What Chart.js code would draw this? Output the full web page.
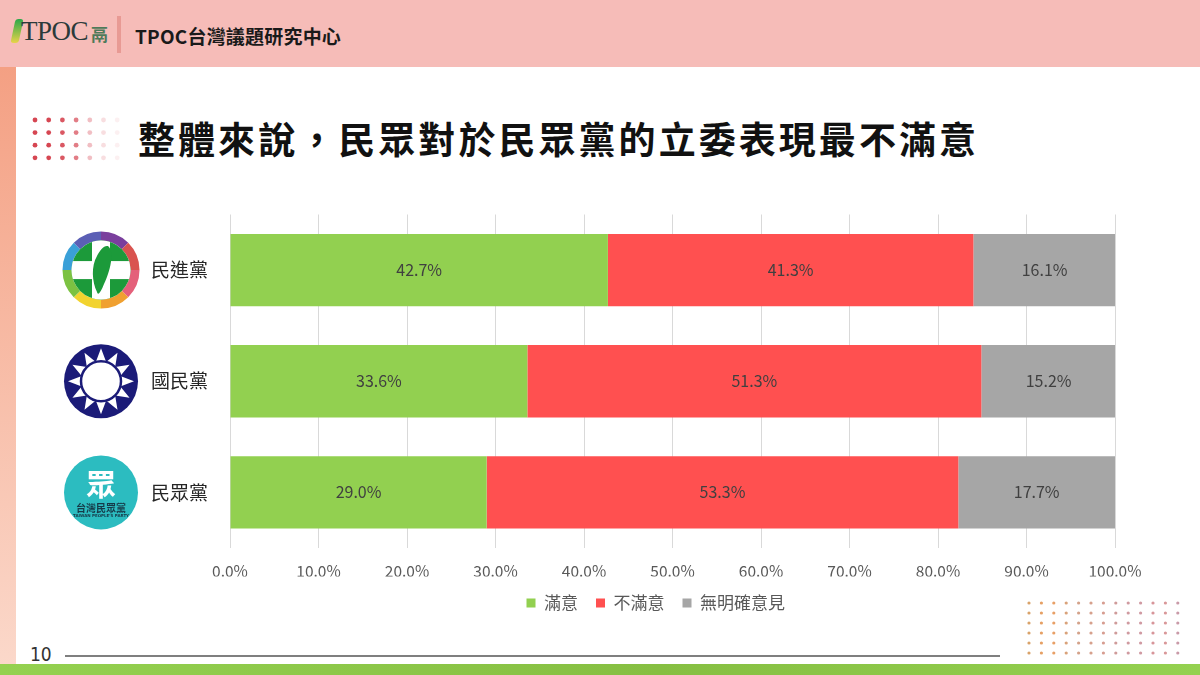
<!DOCTYPE html>
<html><head><meta charset="utf-8">
<script src="https://cdn.jsdelivr.net/npm/chart.js@4"></script>
<style>
html,body{margin:0;padding:0;width:1200px;height:675px;overflow:hidden;background:#fff;font-family:"Noto Sans CJK TC",sans-serif;}
#hdr{position:absolute;left:0;top:0;width:1200px;height:67px;background:#f6bcb8;}
#strip{position:absolute;left:0;top:67px;width:16px;height:597px;background:linear-gradient(#f4a083,#fbd8ca);}
#foot{position:absolute;left:0;top:664px;width:1200px;height:11px;background:linear-gradient(90deg,#94d150,#86bf42 55%,#94d150);}
#logoTxt{position:absolute;left:21px;top:16px;font-family:"Liberation Serif",serif;font-size:27px;color:#2b3a3a;letter-spacing:-0.5px;}
#logoIco{position:absolute;left:91px;top:21px;font-size:17px;font-weight:bold;color:#4e7a5a;}
#leaf{position:absolute;left:13px;top:19px;width:8px;height:24px;border-radius:3px;background:linear-gradient(#2aa84a,#e8d34a);transform:skewX(-12deg);}
#sep{position:absolute;left:117px;top:16px;width:4px;height:37px;background:#e89a94;}
#hname{position:absolute;left:135px;top:22px;font-size:19px;font-weight:bold;color:#1a1a1a;letter-spacing:0.2px;}
#title{position:absolute;left:138px;top:111px;font-size:37px;font-weight:bold;color:#111;letter-spacing:3.05px;white-space:nowrap;}
#pg{position:absolute;left:30px;top:643px;font-family:"Liberation Sans Narrow","DejaVu Sans Condensed",sans-serif;font-size:19px;color:#333;}
#line{position:absolute;left:65px;top:655px;width:935px;height:2px;background:#7f7f7f;}
canvas{position:absolute;left:0;top:0;}
</style></head>
<body>
<div id="hdr"></div><div id="strip"></div><div id="foot"></div>
<div id="leaf"></div><div id="logoTxt">TPOC</div><div id="logoIco">鬲</div>
<div id="sep"></div><div id="hname">TPOC台灣議題研究中心</div>
<div id="title">整體來說，民眾對於民眾黨的立委表現最不滿意</div>
<div id="pg">10</div><div id="line"></div>
<canvas id="deco" width="1200" height="675"></canvas>
<canvas id="c" width="1200" height="675"></canvas>
<script>
const categories = ['民進黨', '國民黨', '民眾黨'];
const seriesNames = ['滿意', '不滿意', '無明確意見'];
const satisfied = [42.7, 33.6, 29.0];
const dissatisfied = [41.3, 51.3, 53.3];
const noOpinion = [16.1, 15.2, 17.7];
const xTicks = [0,10,20,30,40,50,60,70,80,90,100];
const colors = ['#92d050', '#ff5050', '#a6a6a6'];

// decorative dots
(function(){
  const c = document.getElementById('deco').getContext('2d');
  const alphas=[1,1,0.9,0.7,0.35,0.18,0.08];
  for(let r=0;r<4;r++) for(let k=0;k<7;k++){
    c.beginPath(); c.arc(35+k*13.7,120+r*12.6,2.4,0,Math.PI*2);
    c.fillStyle='rgba(214,70,82,'+alphas[k]+')'; c.fill();
  }
  const pal=['#d9a36a','#e6a064','#e8a067','#d9a27a','#d4a28a','#d6a08c','#d79d91','#cf9b9a','#cf9aa0','#d09aa2','#d8959a','#d99799','#c99aa8'];
  for(let r=0;r<6;r++) for(let k=0;k<13;k++){
    c.beginPath(); c.arc(1029+k*12.4,603+r*10,1.6,0,Math.PI*2);
    c.fillStyle=pal[k]; c.fill();
  }
})();

function drawDPP(ctx,x,y){
  const segs=['#7a3f9d','#d9534f','#e4607a','#f0a030','#f2d32f','#7cc242','#3aa0d8','#5b5fb5'];
  for(let i=0;i<segs.length;i++){
    ctx.beginPath(); ctx.arc(x,y,34,-Math.PI/2+i*Math.PI*2/segs.length,-Math.PI/2+(i+1)*Math.PI*2/segs.length);
    ctx.strokeStyle=segs[i]; ctx.lineWidth=9; ctx.stroke();
  }
  ctx.save();
  ctx.beginPath(); ctx.arc(x,y,29.5,0,Math.PI*2); ctx.fillStyle='#1c9a3a'; ctx.fill(); ctx.clip();
  ctx.fillStyle='#fff';
  ctx.fillRect(x-9,y-32,18,64); ctx.fillRect(x-32,y-9,64,18);
  ctx.fillStyle='#1c9a3a';
  ctx.beginPath();
  ctx.moveTo(x+7,y-24); ctx.bezierCurveTo(x+14,y-18,x+9,y+2,x+3,y+14);
  ctx.bezierCurveTo(x,y+22,x-3,y+26,x-4,y+22);
  ctx.bezierCurveTo(x-9,y+12,x-10,y-4,x-4,y-14);
  ctx.bezierCurveTo(x-1,y-20,x+3,y-25,x+7,y-24);
  ctx.fill();
  ctx.restore();
}
function drawKMT(ctx,x,y){
  const navy='#1b1b78';
  ctx.beginPath(); ctx.arc(x,y,37,0,Math.PI*2); ctx.fillStyle=navy; ctx.fill();
  ctx.beginPath();
  for(let i=0;i<24;i++){
    const a=-Math.PI/2+i*Math.PI/12; const rr=(i%2===0)?33:20;
    const px=x+rr*Math.cos(a), py=y+rr*Math.sin(a);
    if(i===0) ctx.moveTo(px,py); else ctx.lineTo(px,py);
  }
  ctx.closePath(); ctx.fillStyle='#fff'; ctx.fill();
  ctx.beginPath(); ctx.arc(x,y,20,0,Math.PI*2); ctx.strokeStyle=navy; ctx.lineWidth=2.5; ctx.stroke();
}
function drawTPP(ctx,x,y){
  ctx.beginPath(); ctx.arc(x,y,37,0,Math.PI*2); ctx.fillStyle='#2cbcc0'; ctx.fill();
  ctx.fillStyle='#fff'; ctx.textAlign='center'; ctx.textBaseline='middle';
  ctx.font='bold 30px "Noto Sans CJK TC"'; ctx.fillText('眾',x,y-9);
  ctx.fillStyle='#163a48'; ctx.font='bold 10px "Noto Sans CJK TC"'; ctx.fillText('台灣民眾黨',x,y+16);
  ctx.font='bold 4px "DejaVu Sans"'; ctx.fillText("TAIWAN PEOPLE'S PARTY",x,y+24);
}

// logos + category names beside the y scale
const logoPlugin={id:'logos',afterDraw(chart){
  const ctx=chart.ctx, ys=chart.scales.y;
  const fns=[drawDPP,drawKMT,drawTPP];
  categories.forEach((c,i)=>{
    const y=ys.getPixelForValue(i);
    ctx.save(); fns[i](ctx,101,y); ctx.restore();
    ctx.save(); ctx.font='19px "Noto Sans CJK TC"'; ctx.fillStyle='#262626';
    ctx.textAlign='right'; ctx.textBaseline='middle'; ctx.fillText(c,208,y); ctx.restore();
  });
}};
const labelPlugin={id:'vals',afterDatasetsDraw(chart){
  const ctx=chart.ctx;
  ctx.save(); ctx.font='16px "Noto Sans CJK TC"'; ctx.fillStyle='#404040'; ctx.textAlign='center'; ctx.textBaseline='middle';
  chart.data.datasets.forEach((ds,di)=>{
    chart.getDatasetMeta(di).data.forEach((el,i)=>{
      const p=el.getCenterPoint(); ctx.fillText(ds.data[i].toFixed(1)+'%',p.x,p.y);
    });
  });
  ctx.restore();
}};

new Chart(document.getElementById('c'),{
  type:'bar',
  data:{labels:categories,datasets:[
    {label:seriesNames[0],data:satisfied,backgroundColor:colors[0]},
    {label:seriesNames[1],data:dissatisfied,backgroundColor:colors[1]},
    {label:seriesNames[2],data:noOpinion,backgroundColor:colors[2]}
  ]},
  options:{
    indexAxis:'y',responsive:false,animation:false,devicePixelRatio:1,
    categoryPercentage:1,barPercentage:0.65,
    layout:{padding:{left:196.5,right:85,top:214.5,bottom:53.5}},
    scales:{
      x:{stacked:true,min:0,max:100,
        afterBuildTicks(s){s.ticks=xTicks.map(v=>({value:v}));},
        afterFit(s){s.height=28.5;},
        ticks:{padding:14,color:'#595959',font:{size:15.5,family:'"Noto Sans CJK TC"'},callback:v=>Number(v).toFixed(1)+'%'},
        grid:{color:'#d9d9d9',drawTicks:false},border:{display:false}},
      y:{stacked:true,
        afterFit(s){s.width=33.5;},
        ticks:{display:false},
        grid:{display:false},border:{display:false}}
    },
    plugins:{
      legend:{position:'bottom',labels:{boxWidth:9,boxHeight:9,padding:18,color:'#595959',font:{size:17,family:'"Noto Sans CJK TC"'}}},
      tooltip:{enabled:false}
    }
  },
  plugins:[logoPlugin,labelPlugin]
});
</script>
</body></html>
